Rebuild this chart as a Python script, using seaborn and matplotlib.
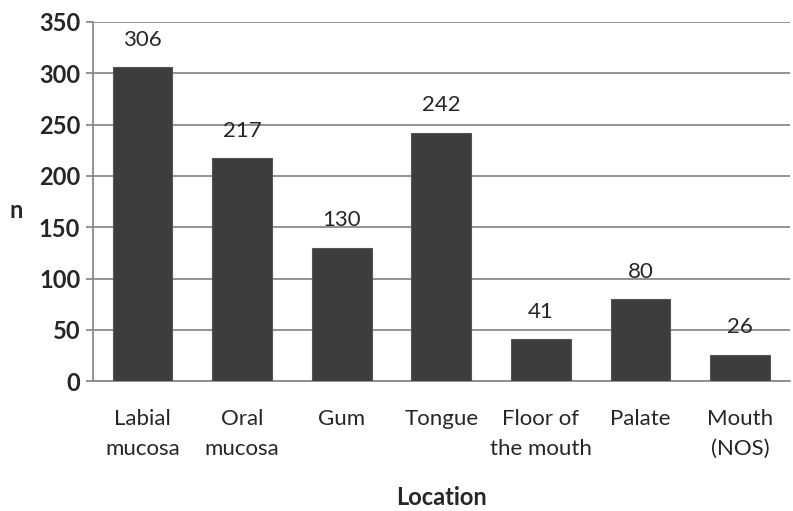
import numpy as np
import pandas as pd
import seaborn as sns
import matplotlib.pyplot as plt

locations = ['Labial\nmucosa', 'Oral\nmucosa', 'Gum', 'Tongue',
             'Floor of\nthe mouth', 'Palate', 'Mouth\n(NOS)']
counts = [306, 217, 130, 242, 41, 80, 26]
yticks = [0, 50, 100, 150, 200, 250, 300, 350]

sns.set_style('white')
plt.rcParams['font.family'] = ['Lato', 'DejaVu Sans']

df = pd.DataFrame({'Location': locations, 'n': counts})

fig = plt.figure(figsize=(7.93, 5.11), dpi=100)
ax = fig.add_axes([0.117, 0.254, 0.879, 0.703])
sns.barplot(data=df, x='Location', y='n', color='#3d3d3d', saturation=1,
            width=0.6, edgecolor='#555555', linewidth=0.8, ax=ax, zorder=3)

ax.set_ylim(0, 350)
ax.set_xlim(-0.5, len(locations) - 0.5)
ax.set_yticks(yticks)
ax.set_yticklabels([str(v) for v in yticks], fontsize=17, fontweight='bold')
ax.yaxis.grid(True, color='#8a8a8a', linewidth=1.3, zorder=0)
ax.set_axisbelow(True)

ax.set_xticks(range(len(locations)))
ax.set_xticklabels(locations, fontsize=16, linespacing=1.6)
ax.set_xticks(np.arange(-0.5, len(locations)), minor=True)
ax.tick_params(axis='x', which='major', length=0, pad=20)
ax.tick_params(axis='x', which='minor', length=9, width=1.3, color='#8a8a8a')
ax.tick_params(axis='y', length=5, width=1.3, color='#8a8a8a', left=True, pad=4)

for s in ['top', 'right']:
    ax.spines[s].set_visible(False)
for s in ['left', 'bottom']:
    ax.spines[s].set_color('#8a8a8a')
    ax.spines[s].set_linewidth(1.3)

for i, v in enumerate(counts):
    ax.text(i, v + 17, str(v), ha='center', va='bottom', fontsize=16)

ax.set_xlabel('Location', fontsize=17, fontweight='bold', labelpad=20)
ax.set_ylabel('n', fontsize=17, fontweight='bold', rotation=0, va='center')
ax.yaxis.set_label_coords(-0.11, 0.476)

fig.savefig('out.png', dpi=100)
